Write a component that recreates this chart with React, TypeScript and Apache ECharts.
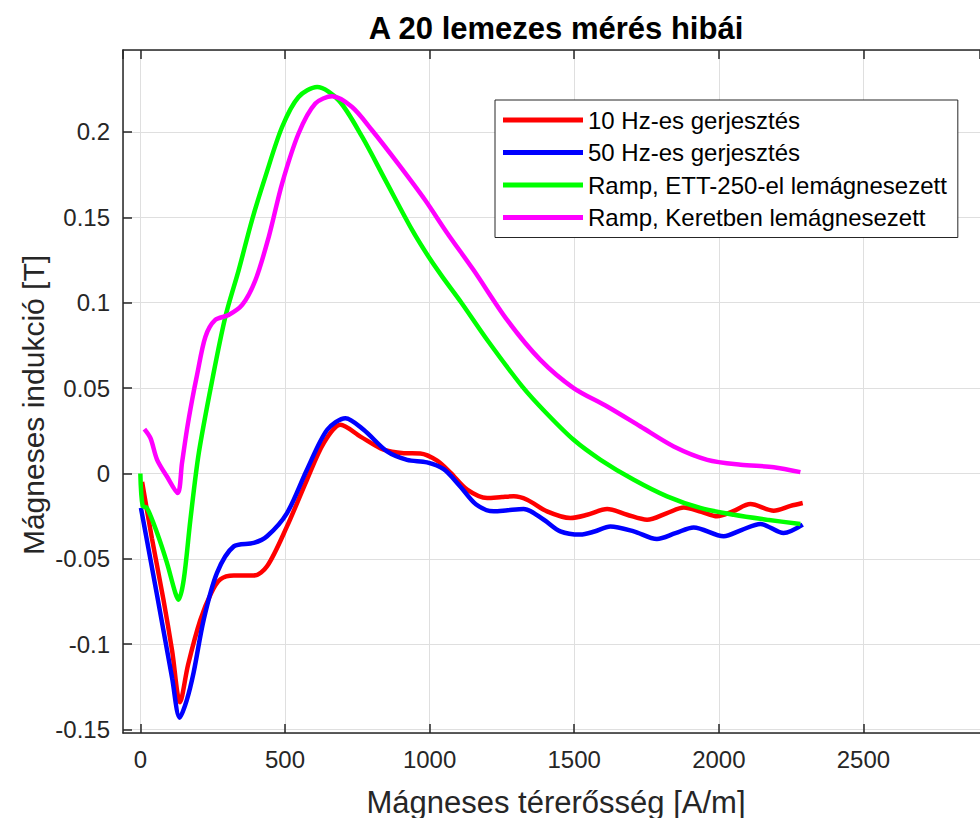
import React, { useEffect, useRef } from "react";
import * as echarts from "echarts";

const titleText = "A 20 lemezes mérés hibái";
const xName = "Mágneses térerősség [A/m]";
const yName = "Mágneses indukció [T]";
const seriesNames = [
  "10 Hz-es gerjesztés",
  "50 Hz-es gerjesztés",
  "Ramp, ETT-250-el lemágnesezett",
  "Ramp, Keretben lemágnesezett",
];
const seriesColors = ["#ff0000", "#0000ff", "#00ff00", "#ff00ff"];

const redX = [6, 40, 80, 110, 137, 165, 207, 245, 277, 323, 392, 438, 507, 576, 634, 692, 761, 841, 911, 968, 1026, 1072, 1130, 1199, 1250, 1291, 1337, 1406, 1487, 1545, 1614, 1683, 1752, 1821, 1879, 1940, 1994, 2050, 2109, 2190, 2248, 2290];
const redY = [-0.005, -0.038, -0.074, -0.104, -0.134, -0.112, -0.086, -0.07, -0.062, -0.0598, -0.0598, -0.0544, -0.031, -0.0037, 0.0178, 0.0285, 0.0216, 0.0139, 0.0119, 0.0117, 0.0075, 0.0005, -0.0095, -0.0144, -0.0138, -0.0134, -0.0154, -0.0222, -0.0261, -0.0242, -0.0208, -0.0242, -0.0271, -0.0232, -0.0199, -0.0225, -0.0251, -0.022, -0.0179, -0.0218, -0.019, -0.0173];

const blueX = [2, 40, 80, 110, 136, 160, 184, 219, 265, 323, 392, 438, 507, 576, 646, 709, 772, 853, 922, 991, 1049, 1106, 1160, 1222, 1270, 1325, 1395, 1452, 1521, 1570, 1625, 1706, 1786, 1850, 1913, 2017, 2080, 2144, 2224, 2290];
const blueY = [-0.0202, -0.055, -0.092, -0.12, -0.143, -0.133, -0.1167, -0.0856, -0.0582, -0.0427, -0.0407, -0.0368, -0.0232, 0.0022, 0.0256, 0.0324, 0.0256, 0.0129, 0.008, 0.0065, 0.0025, -0.0076, -0.018, -0.0222, -0.0215, -0.0208, -0.0271, -0.0339, -0.0358, -0.034, -0.031, -0.0339, -0.0384, -0.035, -0.0316, -0.0368, -0.033, -0.0296, -0.0349, -0.03];

const greenX = [0, 8, 23, 58, 92, 121, 132, 150, 173, 202, 250, 294, 340, 386, 432, 490, 547, 611, 686, 767, 847, 940, 1000, 1045, 1110, 1200, 1320, 1400, 1498, 1591, 1706, 1821, 1936, 2052, 2167, 2282];
const greenY = [0, -0.019, -0.0202, -0.0349, -0.0524, -0.07, -0.0739, -0.0622, -0.0271, 0.0119, 0.056, 0.0918, 0.1191, 0.1484, 0.1737, 0.2029, 0.2205, 0.2263, 0.2185, 0.1971, 0.1718, 0.1425, 0.126, 0.115, 0.1, 0.078, 0.051, 0.036, 0.0197, 0.008, -0.0037, -0.0134, -0.0202, -0.0242, -0.0271, -0.0296];

const magentaX = [14, 35, 58, 92, 129, 144, 161, 179, 196, 225, 259, 305, 352, 398, 444, 490, 547, 605, 663, 732, 801, 893, 985, 1060, 1152, 1268, 1383, 1498, 1614, 1729, 1844, 1960, 2075, 2190, 2282];
const magentaY = [0.026, 0.0207, 0.008, -0.0018, -0.0115, 0.0061, 0.0256, 0.0431, 0.0577, 0.0801, 0.0899, 0.0928, 0.0987, 0.1133, 0.1386, 0.1698, 0.1991, 0.2166, 0.2209, 0.2146, 0.201, 0.181, 0.16, 0.141, 0.1191, 0.0899, 0.0665, 0.05, 0.0392, 0.0275, 0.0158, 0.008, 0.0051, 0.0037, 0.0008];

const allX = [redX, blueX, greenX, magentaX];
const allY = [redY, blueY, greenY, magentaY];

const FONT = "'Liberation Sans', Arial, Helvetica, sans-serif";
const AXIS_COLOR = "#262626";

export default function App() {
  const ref = useRef<HTMLDivElement>(null);
  useEffect(() => {
    if (!ref.current) return;
    const chart = echarts.init(ref.current, undefined, { renderer: "svg" });
    const axisCommon = {
      axisLine: { show: true, onZero: false, lineStyle: { color: AXIS_COLOR, width: 1.5 } },
      axisTick: { show: true, inside: true, length: 9, lineStyle: { color: AXIS_COLOR, width: 1.5 } },
    };
    const option: any = {
      animation: false,
      backgroundColor: "#ffffff",
      title: {
        text: titleText,
        left: 551,
        top: 8,
        textAlign: "center",
        textStyle: { fontFamily: FONT, fontSize: 31, fontWeight: "bold", color: "#000" },
      },
      graphic: [
        {
          type: "text",
          x: 556,
          y: 802,
          style: {
            text: xName,
            font: `31px ${FONT}`,
            fill: AXIS_COLOR,
            align: "center",
            verticalAlign: "middle",
          },
        },
        {
          type: "text",
          x: 33,
          y: 405,
          rotation: Math.PI / 2,
          style: {
            text: yName,
            font: `30px ${FONT}`,
            fill: AXIS_COLOR,
            align: "center",
            verticalAlign: "middle",
          },
        },
      ],
      legend: {
        orient: "vertical",
        left: 495,
        top: 100,
        icon: "rect",
        itemWidth: 80,
        itemHeight: 5,
        itemGap: 8.5,
        padding: [8, 11, 8, 8],
        backgroundColor: "#ffffff",
        borderColor: AXIS_COLOR,
        borderWidth: 1,
        borderRadius: 0,
        textStyle: { fontFamily: FONT, fontSize: 24, color: "#000", lineHeight: 24 },
        data: seriesNames,
      },
      grid: { left: 123, right: 0, top: 50, bottom: 85, containLabel: false },
      xAxis: [
        {
          type: "value",
          min: -60,
          max: 2903,
          minInterval: 500,
          maxInterval: 500,
          splitNumber: 6,
          ...axisCommon,
          axisLabel: {
            show: true,
            fontFamily: FONT,
            fontSize: 24,
            color: AXIS_COLOR,
            margin: 14,
            showMinLabel: false,
            showMaxLabel: false,
            formatter: (v: number) => String(v),
          },
          splitLine: { show: true, lineStyle: { color: "#dfdfdf", width: 1 } },
        },
        {
          type: "value",
          position: "top",
          min: -60,
          max: 2903,
          minInterval: 500,
          maxInterval: 500,
          splitNumber: 6,
          ...axisCommon,
          axisLabel: { show: false },
          splitLine: { show: false },
        },
      ],
      yAxis: {
        type: "value",
        min: -0.152,
        max: 0.248,
        minInterval: 0.05,
        maxInterval: 0.05,
        splitNumber: 8,
        ...axisCommon,
        axisLabel: {
          show: true,
          fontFamily: FONT,
          fontSize: 24,
          color: AXIS_COLOR,
          margin: 13,
          showMinLabel: false,
          showMaxLabel: false,
          formatter: (v: number) => String(Math.round(v * 1000) / 1000),
        },
        splitLine: { show: true, lineStyle: { color: "#dfdfdf", width: 1 } },
      },
      series: seriesNames.map((name, i) => ({
        name,
        type: "line",
        xAxisIndex: 0,
        yAxisIndex: 0,
        showSymbol: false,
        symbol: "none",
        smooth: 0.3,
        color: seriesColors[i],
        itemStyle: { color: seriesColors[i] },
        lineStyle: { color: seriesColors[i], width: 4.5 },
        data: allX[i].map((x, j) => [x, allY[i][j]]),
        z: 2 + i,
      })),
    };
    chart.setOption(option);
    return () => chart.dispose();
  }, []);
  return (
    <div
      ref={ref}
      style={{ position: "absolute", left: 0, top: 0, width: 980, height: 818, background: "#fff" }}
    />
  );
}
